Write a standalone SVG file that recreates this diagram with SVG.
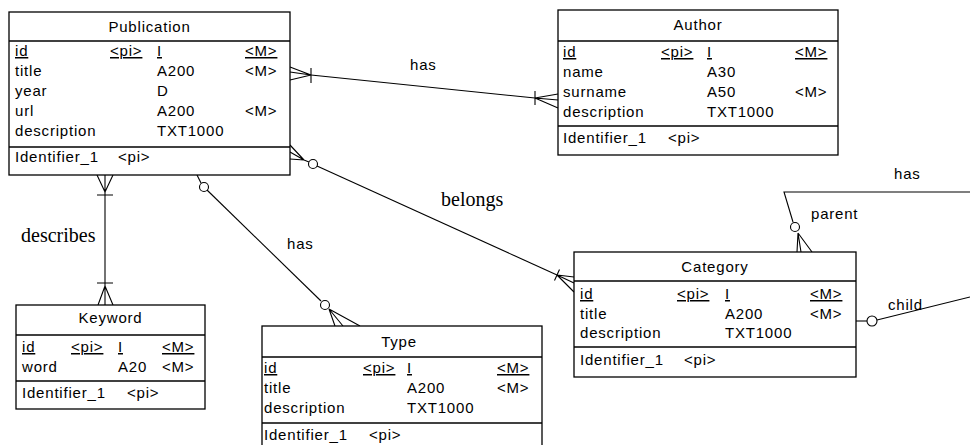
<svg xmlns="http://www.w3.org/2000/svg" width="970" height="445" viewBox="0 0 970 445">
  <style>
    .box { fill: #fff; stroke: #000; stroke-width: 1.3; }
    .sep { stroke: #000; stroke-width: 1.3; }
    .t { font-family: "Liberation Sans", Arial, sans-serif; font-size: 15px; letter-spacing: 0.8px; fill: #000; }
    .title { text-anchor: middle; }
    .u { text-decoration: underline; }
    .serif { font-family: "Liberation Serif", "Times New Roman", serif; font-size: 20px; fill: #000; }
    .ln { fill: none; stroke: #000; stroke-width: 1.1; }
    .opt { fill: #fff; stroke: #000; stroke-width: 1.1; }
  </style>

  <!-- relationships -->
  <g id="connectors">
    <!-- Publication - Author : has -->
    <g id="rel-pub-author">
      <path class="ln" d="M290,67 L311,75 M290,72 L311,75 M290,80 L311,75 M311,68 L311,83"/>
      <path class="ln" d="M311,75 L535,98"/>
      <path class="ln" d="M535,91 L535,105 M535,98 L558,94 M535,98 L558,100 M535,98 L558,108"/>
      <text class="t" x="410" y="70">has</text>
    </g>
    <!-- Publication - Category : belongs -->
    <g id="rel-pub-category">
      <path class="ln" d="M290,145 L304,160 M290,152 L304,160 M290,159 L304,160 L309,162"/>
      <circle class="opt" cx="313" cy="164" r="4.5"/>
      <path class="ln" d="M317,166 L557,275"/>
      <path class="ln" d="M559.5,269.5 L554.5,280.5 M557,275 L574,277 M557,275 L574,283 M557,275 L574,292"/>
      <text class="serif" x="441" y="206">belongs</text>
    </g>
    <!-- Publication - Type : has -->
    <g id="rel-pub-type">
      <path class="ln" d="M197,175 L201,183"/>
      <circle class="opt" cx="204" cy="187" r="4.5"/>
      <path class="ln" d="M207,190 L321,301"/>
      <circle class="opt" cx="325" cy="305" r="4.5"/>
      <path class="ln" d="M329,309 L335,326 M329,309 L343,326 M329,309 L360,326"/>
      <text class="t" x="287" y="249">has</text>
    </g>
    <!-- Publication - Keyword : describes -->
    <g id="rel-pub-keyword">
      <path class="ln" d="M97,175 L105,192 M105,175 L105,192 M113,175 L105,192 M97,195 L113,195"/>
      <path class="ln" d="M105,192 L105,286"/>
      <path class="ln" d="M97,283 L113,283 M105,286 L98,305 M105,286 L105,305 M105,286 L113,305"/>
      <text class="serif" x="21" y="242">describes</text>
    </g>
    <!-- Category - Category : has (parent / child) -->
    <g id="rel-category-self">
      <path class="ln" d="M798,233 L797,252 M798,233 L801,252 M798,233 L812,252"/>
      <circle class="opt" cx="795" cy="227" r="4.5"/>
      <path class="ln" d="M793,222 L784,192 L970,192"/>
      <path class="ln" d="M856,321 L867,321"/>
      <circle class="opt" cx="872" cy="321" r="5"/>
      <path class="ln" d="M877,320 L970,297"/>
      <text class="t" x="894" y="179">has</text>
      <text class="t" x="811" y="219">parent</text>
      <text class="t" x="888" y="310">child</text>
    </g>
  </g>

  <!-- Publication -->
  <g id="publication">
    <rect class="box" x="9" y="12" width="281" height="163"/>
    <line class="sep" x1="9" y1="41" x2="290" y2="41"/>
    <line class="sep" x1="9" y1="147" x2="290" y2="147"/>
    <text class="t title" x="149.5" y="32">Publication</text>
    <text class="t u" x="15" y="56">id</text>
    <text class="t u" x="110" y="56">&lt;pi&gt;</text>
    <text class="t u" x="157" y="56">I</text>
    <text class="t u" x="245" y="56">&lt;M&gt;</text>
    <text class="t" x="15" y="76">title</text>
    <text class="t" x="157" y="76">A200</text>
    <text class="t" x="245" y="76">&lt;M&gt;</text>
    <text class="t" x="15" y="96">year</text>
    <text class="t" x="157" y="96">D</text>
    <text class="t" x="15" y="116">url</text>
    <text class="t" x="157" y="116">A200</text>
    <text class="t" x="245" y="116">&lt;M&gt;</text>
    <text class="t" x="15" y="136">description</text>
    <text class="t" x="157" y="136">TXT1000</text>
    <text class="t" x="15" y="162">Identifier_1</text>
    <text class="t" x="118" y="162">&lt;pi&gt;</text>
  </g>

  <!-- Author -->
  <g id="author">
    <rect class="box" x="558" y="10" width="280" height="145"/>
    <line class="sep" x1="558" y1="41" x2="838" y2="41"/>
    <line class="sep" x1="558" y1="126" x2="838" y2="126"/>
    <text class="t title" x="698" y="30">Author</text>
    <text class="t u" x="563" y="57">id</text>
    <text class="t u" x="661" y="57">&lt;pi&gt;</text>
    <text class="t u" x="707" y="57">I</text>
    <text class="t u" x="795" y="57">&lt;M&gt;</text>
    <text class="t" x="563" y="77">name</text>
    <text class="t" x="707" y="77">A30</text>
    <text class="t" x="563" y="97">surname</text>
    <text class="t" x="707" y="97">A50</text>
    <text class="t" x="795" y="97">&lt;M&gt;</text>
    <text class="t" x="563" y="117">description</text>
    <text class="t" x="707" y="117">TXT1000</text>
    <text class="t" x="563" y="143">Identifier_1</text>
    <text class="t" x="668" y="143">&lt;pi&gt;</text>
  </g>

  <!-- Category -->
  <g id="category">
    <rect class="box" x="574" y="252" width="282" height="125"/>
    <line class="sep" x1="574" y1="281" x2="856" y2="281"/>
    <line class="sep" x1="574" y1="347" x2="856" y2="347"/>
    <text class="t title" x="715" y="272">Category</text>
    <text class="t u" x="580" y="299">id</text>
    <text class="t u" x="677" y="299">&lt;pi&gt;</text>
    <text class="t u" x="725" y="299">I</text>
    <text class="t u" x="810" y="299">&lt;M&gt;</text>
    <text class="t" x="580" y="319">title</text>
    <text class="t" x="725" y="319">A200</text>
    <text class="t" x="810" y="319">&lt;M&gt;</text>
    <text class="t" x="580" y="338">description</text>
    <text class="t" x="725" y="338">TXT1000</text>
    <text class="t" x="580" y="365">Identifier_1</text>
    <text class="t" x="684" y="365">&lt;pi&gt;</text>
  </g>

  <!-- Keyword -->
  <g id="keyword">
    <rect class="box" x="16" y="305" width="189" height="104"/>
    <line class="sep" x1="16" y1="335" x2="205" y2="335"/>
    <line class="sep" x1="16" y1="381" x2="205" y2="381"/>
    <text class="t title" x="110.5" y="323">Keyword</text>
    <text class="t u" x="22" y="352">id</text>
    <text class="t u" x="71" y="352">&lt;pi&gt;</text>
    <text class="t u" x="118" y="352">I</text>
    <text class="t u" x="162" y="352">&lt;M&gt;</text>
    <text class="t" x="22" y="372">word</text>
    <text class="t" x="118" y="372">A20</text>
    <text class="t" x="162" y="372">&lt;M&gt;</text>
    <text class="t" x="22" y="398">Identifier_1</text>
    <text class="t" x="127" y="398">&lt;pi&gt;</text>
  </g>

  <!-- Type -->
  <g id="type">
    <rect class="box" x="262" y="326" width="280" height="122"/>
    <line class="sep" x1="262" y1="357" x2="542" y2="357"/>
    <line class="sep" x1="262" y1="423" x2="542" y2="423"/>
    <text class="t title" x="399" y="347">Type</text>
    <text class="t u" x="264" y="373">id</text>
    <text class="t u" x="363" y="373">&lt;pi&gt;</text>
    <text class="t u" x="407" y="373">I</text>
    <text class="t u" x="497" y="373">&lt;M&gt;</text>
    <text class="t" x="264" y="393">title</text>
    <text class="t" x="407" y="393">A200</text>
    <text class="t" x="497" y="393">&lt;M&gt;</text>
    <text class="t" x="264" y="413">description</text>
    <text class="t" x="407" y="413">TXT1000</text>
    <text class="t" x="264" y="440">Identifier_1</text>
    <text class="t" x="369" y="440">&lt;pi&gt;</text>
  </g>
</svg>
